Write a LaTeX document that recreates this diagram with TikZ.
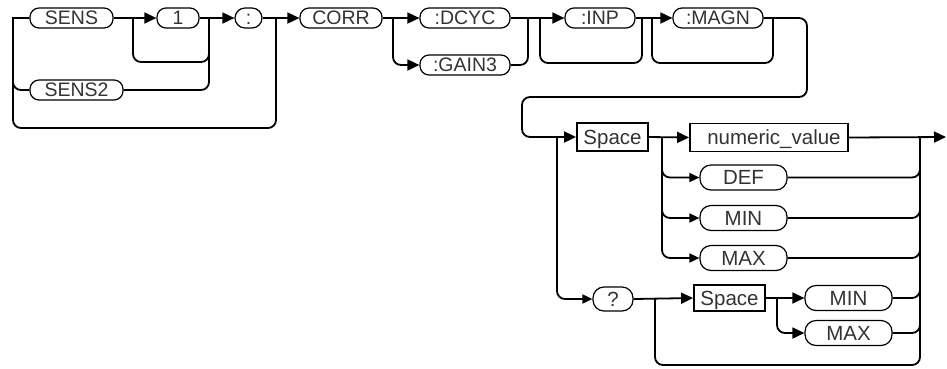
\documentclass[tikz,border=0pt]{standalone}
\usepackage{fontspec}
\setmainfont{Liberation Sans}
\usetikzlibrary{arrows.meta}
\begin{document}
\begin{tikzpicture}[x=1pt,y=-1pt,
  rb/.style={draw, line width=1.2pt, rounded corners=9pt, minimum height=20pt, inner sep=0pt,
     text height=14pt, text depth=0.5pt, font=\fontsize{19.5}{20}\selectfont, text=black!80},
  rb2/.style={rb, rounded corners=11pt, minimum height=25pt, font=\fontsize{20.5}{21}\selectfont, text height=14.5pt},
  sq/.style={draw, line width=1.8pt, minimum height=28pt, inner sep=0pt, font=\fontsize{20.5}{21}\selectfont,
     text height=14.5pt, text depth=0.5pt, text=black!80},
  ln/.style={line width=1.8pt, rounded corners=8pt},
  ar/.style={ln, -{Triangle[length=12pt,width=11pt]}},
  ars/.style={ln, -{Triangle[length=10pt,width=9pt]}},
]
\useasboundingbox (0,0) rectangle (947,368);
% top section
\node[rb, minimum width=83pt] (sens) at (71.5,18) {SENS};
\node[rb, minimum width=42pt] (one) at (178,18) {1};
\node[rb, minimum width=27pt, rounded corners=10pt] (colon) at (248.5,18) {:};
\node[rb, minimum width=93pt] (sens2) at (76.5,90) {SENS2};
\node[rb, minimum width=82pt] (corr) at (341,18) {CORR};
\node[rb, minimum width=90pt] (dcyc) at (465,18) {:DCYC};
\node[rb, minimum width=90pt] (gain) at (465,65) {:GAIN3};
\node[rb, minimum width=70pt] (inp) at (600,18) {:INP};
\node[rb, minimum width=90pt] (magn) at (718,18) {:MAGN};
% bottom section
\node[sq, minimum width=71pt] (sp1) at (612.5,137) {Space};
\node[sq, minimum width=158pt] (num) at (769,137.5) {\hspace*{10pt}numeric\_value};
\node[rb2, minimum width=87pt] (def) at (743.5,177.5) {DEF};
\node[rb2, minimum width=87pt] (min) at (743.5,218) {MIN};
\node[rb2, minimum width=87pt] (max) at (743.5,258) {MAX};
\node[rb2, minimum width=40pt, minimum height=24pt] (q) at (613,299) {?};
\node[sq, minimum width=71pt, minimum height=26pt] (sp2) at (729.5,298) {Space};
\node[rb2, minimum width=87pt] (min2) at (848.5,298) {MIN};
\node[rb2, minimum width=87pt] (max2) at (848.5,333) {MAX};
\coordinate (end) at (946,137);
% connectors, top
\draw[line width=1.8pt] (sens.west) -- (13,18) [rounded corners=8pt] -- (13,128) -- (276,128) -- (276,18);
\draw[ln] (13,70) -- (13,90) -- (sens2.west);
\draw[ar] (sens.east) -- (one.west);
\draw[ln] (133,18) -- (133,62) -- (209,62) -- (209,18);
\draw[ar] (one.east) -- (colon.west);
\draw[ln] (sens2.east) -- (209,90) -- (209,55);
\draw[ar] (colon.east) -- (corr.west);
\draw[ar] (corr.east) -- (dcyc.west);
\draw[ar] (393,18) -- (393,65) -- (gain.west);
\draw[ar] (dcyc.east) -- (inp.west);
\draw[ln] (gain.east) -- (528,65) -- (528,18);
\draw[ln] (540,18) -- (540,63) -- (642,63) -- (642,18);
\draw[ar] (inp.east) -- (magn.west);
\draw[ln] (652,18) -- (652,63) -- (773,63) -- (773,18);
\draw[ar] (magn.east) -- (807,18) -- (807,97) -- (522,97) -- (522,137) -- (sp1.west);
% connectors, bottom
\draw[ars] (557,137) -- (557,299) -- (q.west);
\draw[ar] (sp1.east) -- (num.west);
\draw[ars] (662,137) -- (662,177.5) -- (def.west);
\draw[ars] (662,170) -- (662,218) -- (min.west);
\draw[ars] (662,210) -- (662,258) -- (max.west);
\draw[ar] (num.east) -- (end);
\draw[ln] (655,299) -- (655,365) -- (920,365) -- (920,137);
\draw[ln] (def.east) -- (920,177.5) -- (920,160);
\draw[ln] (min.east) -- (920,218) -- (920,200);
\draw[ln] (max.east) -- (920,258) -- (920,240);
\draw[ln] (min2.east) -- (920,298) -- (920,280);
\draw[ln] (max2.east) -- (920,333) -- (920,315);
\draw[ar] (q.east) -- (sp2.west);
\draw[ar] (sp2.east) -- (min2.west);
\draw[ar] (777,298) -- (777,333) -- (max2.west);
\end{tikzpicture}
\end{document}
